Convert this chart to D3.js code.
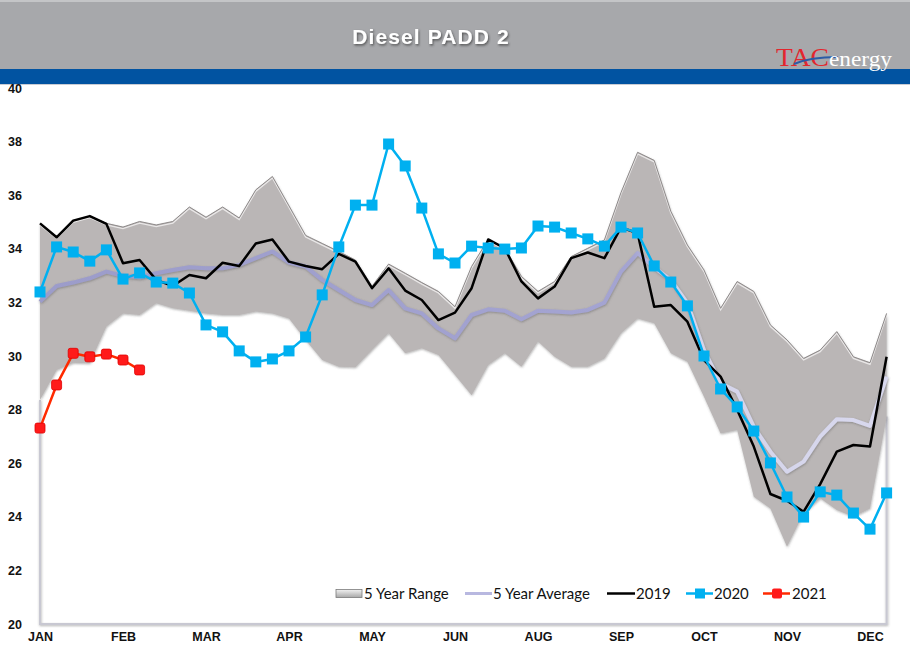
<!DOCTYPE html>
<html>
<head>
<meta charset="utf-8">
<script src="https://cdn.jsdelivr.net/npm/d3@7/dist/d3.min.js"></script>
<style>
  body { margin: 0; background: #fff; }
  svg { display: block; }
</style>
</head>
<body>
<svg id="chart" width="910" height="661"></svg>
<script>
// weekly values, 52 weeks
const monthLabels = ["JAN", "FEB", "MAR", "APR", "MAY", "JUN", "AUG", "SEP", "OCT", "NOV", "DEC"];
const monthWeeks = [0, 5, 10, 15, 20, 25, 30, 35, 40, 45, 50];
const yTicks = [20, 22, 24, 26, 28, 30, 32, 34, 36, 38, 40];

const rangeHigh = [34.95, 34.45, 35.05, 35.22, 34.95, 34.81, 35.02, 34.89, 35.02, 35.56, 35.18, 35.56, 35.15,
  36.2, 36.7, 35.6, 34.5, 34.2, 33.9, 33.58, 32.6, 33.43, 33.09, 32.74, 32.41, 31.84, 33.34, 34.35, 34.02,
  32.97, 32.41, 32.78, 33.71, 34.02, 34.33, 36.1, 37.6, 37.3, 35.4, 34.14, 33.21, 31.78, 32.78, 32.41,
  31.16, 30.6, 29.91, 30.22, 30.91, 29.97, 29.75, 31.59];
const rangeLow = [28.36, 29.48, 29.75, 29.73, 31.1, 31.59, 31.53, 31.97, 31.78, 31.69, 31.59, 31.53, 31.53,
  31.66, 31.59, 31.4, 30.6, 29.85, 29.6, 29.58, 30.22, 30.85, 30.1, 30.29, 30.04, 29.29, 28.54, 29.66, 30.1,
  29.6, 30.54, 29.97, 29.6, 29.6, 29.91, 30.85, 31.4, 31.22, 30.1, 29.79, 28.48, 27.11, 27.24, 24.75,
  24.31, 22.88, 24.13, 24.69, 24.25, 24.0, 24.31, 27.74];
const avg5 = [32.03, 32.61, 32.74, 32.9, 33.15, 32.99, 32.94, 33.09, 33.21, 33.31, 33.27, 33.27, 33.4,
  33.65, 33.9, 33.49, 33.34, 32.84, 32.46, 32.09, 31.9, 32.46, 31.78, 31.59, 31.03, 30.66, 31.53, 31.74,
  31.69, 31.37, 31.69, 31.66, 31.62, 31.72, 31.99, 33.15, 33.84, 33.31, 32.84, 31.97, 30.22, 28.98, 28.67,
  27.36, 26.43, 25.68, 26.06, 26.99, 27.64, 27.61, 27.39, 29.23];
const y2019 = [34.95, 34.43, 35.05, 35.22, 34.93, 33.46, 33.58, 32.84, 32.61, 33.02, 32.9, 33.48, 33.36,
  34.2, 34.35, 33.52, 33.36, 33.24, 33.81, 33.52, 32.53, 33.27, 32.44, 32.09, 31.34, 31.62, 32.53, 34.35,
  34.02, 32.78, 32.15, 32.59, 33.65, 33.86, 33.65, 34.8, 34.58, 31.84, 31.9, 31.28, 29.85, 29.23, 27.99,
  26.62, 24.85, 24.6, 24.19, 25.22, 26.43, 26.68, 26.62, 29.97];
const y2020 = [32.39, 34.07, 33.88, 33.54, 33.96, 32.87, 33.1, 32.76, 32.72, 32.35, 31.16, 30.9, 30.19,
  29.78, 29.89, 30.19, 30.71, 32.28, 34.07, 35.63, 35.63, 37.91, 37.09, 35.52, 33.81, 33.47, 34.1, 34.03,
  33.99, 34.03, 34.85, 34.81, 34.59, 34.37, 34.1, 34.81, 34.59, 33.36, 32.76, 31.87, 30.0, 28.77, 28.1,
  27.2, 26.01, 24.74, 23.99, 24.93, 24.81, 24.14, 23.54, 24.89];
const y2021 = [27.31, 28.92, 30.1, 29.97, 30.07, 29.85, 29.48];

const svg = d3.select("#chart");
const defs = svg.append("defs");

const x = d3.scaleLinear().domain([0, 51]).range([40, 886.6]);
const y = d3.scaleLinear().domain([20, 40]).range([624, 88]);

// header
svg.append("rect").attr("width", 910).attr("height", 70).attr("fill", "#a7a8ab");
svg.append("rect").attr("y", 0).attr("width", 910).attr("height", 2).attr("fill", "#c4c5c7");
svg.append("rect").attr("y", 69).attr("width", 910).attr("height", 15).attr("fill", "#0153a1");
svg.append("rect").attr("y", 84).attr("width", 910).attr("height", 1).attr("fill", "#c9ccd4");

const shadow = defs.append("filter").attr("id", "txtshadow")
  .attr("x", "-10%").attr("y", "-30%").attr("width", "120%").attr("height", "160%");
shadow.append("feDropShadow").attr("dx", 1).attr("dy", 1.5).attr("stdDeviation", 0.8)
  .attr("flood-color", "#333").attr("flood-opacity", 0.7);

svg.append("text")
  .attr("x", 431).attr("y", 43.5)
  .attr("text-anchor", "middle")
  .attr("font-family", "Liberation Sans, Arial, sans-serif")
  .attr("font-weight", "bold")
  .attr("font-size", 21)
  .attr("letter-spacing", 1.1)
  .attr("fill", "#fff")
  .attr("filter", "url(#txtshadow)")
  .text("Diesel PADD 2");

// logo
const logo = svg.append("g");
logo.append("text")
  .attr("x", 776).attr("y", 66)
  .attr("font-family", "Liberation Serif, Times New Roman, serif")
  .attr("font-size", 25)
  .attr("textLength", 53).attr("lengthAdjust", "spacingAndGlyphs")
  .attr("fill", "#e3262e")
  .text("TAC");
logo.append("path")
  .attr("d", "M794,64 Q810,57 838,57")
  .attr("fill", "none").attr("stroke", "#2b5ca6").attr("stroke-width", 2);
logo.append("text")
  .attr("x", 829).attr("y", 66)
  .attr("font-family", "Liberation Serif, Times New Roman, serif")
  .attr("font-size", 22)
  .attr("textLength", 63).attr("lengthAdjust", "spacingAndGlyphs")
  .attr("fill", "#fff")
  .text("energy");

// band shadow
const bandShadow = defs.append("filter").attr("id", "bandshadow")
  .attr("x", "-5%").attr("y", "-5%").attr("width", "110%").attr("height", "110%");
bandShadow.append("feDropShadow").attr("dx", 0.5).attr("dy", 1).attr("stdDeviation", 1)
  .attr("flood-color", "#555").attr("flood-opacity", 0.45);

// frame that the stacked range leaves at the edges
svg.append("path")
  .attr("d", `M${x(0)},${y(rangeLow[0])} L${x(0)},${y(20)} L${x(51)},${y(20)} L${x(51)},${y(rangeLow[51])}`)
  .attr("fill", "none")
  .attr("stroke", "#c8c8d2")
  .attr("stroke-width", 2)
  .attr("filter", "url(#bandshadow)");

const area = d3.area()
  .x((d, i) => x(i))
  .y0((d, i) => y(rangeLow[i]))
  .y1(d => y(d));

svg.append("path")
  .datum(rangeHigh)
  .attr("d", area)
  .attr("fill", "#bab6b6")
  .attr("filter", "url(#bandshadow)");

const line = d3.line().x((d, i) => x(i)).y(d => y(d));

// bevel on the upper edge
svg.append("path").datum(rangeHigh).attr("d", line)
  .attr("transform", "translate(0,1.6)")
  .attr("fill", "none").attr("stroke", "#e9e7e7").attr("stroke-width", 1.3);
svg.append("path").datum(rangeHigh).attr("d", line)
  .attr("fill", "none").attr("stroke", "#8e8a8a").attr("stroke-width", 1);

// 5 year average
const avgGrad = defs.append("linearGradient").attr("id", "avggrad")
  .attr("gradientUnits", "userSpaceOnUse")
  .attr("x1", 40).attr("x2", 887).attr("y1", 0).attr("y2", 0);
avgGrad.append("stop").attr("offset", 0).attr("stop-color", "#9c9cca");
avgGrad.append("stop").attr("offset", 0.7).attr("stop-color", "#a4a4d2");
avgGrad.append("stop").attr("offset", 0.75).attr("stop-color", "#d4d4ea");
avgGrad.append("stop").attr("offset", 1).attr("stop-color", "#d8d8ee");

svg.append("path").datum(avg5).attr("d", line)
  .attr("fill", "none")
  .attr("stroke", "url(#avggrad)")
  .attr("stroke-width", 4)
  .attr("stroke-linejoin", "round")
  .attr("filter", "url(#bandshadow)");

// 2019
svg.append("path").datum(y2019).attr("d", line)
  .attr("fill", "none").attr("stroke", "#000").attr("stroke-width", 2.5)
  .attr("stroke-linejoin", "round");

// 2020
svg.append("path").datum(y2020).attr("d", line)
  .attr("fill", "none").attr("stroke", "#00b0f0").attr("stroke-width", 2.5)
  .attr("stroke-linejoin", "round");
svg.append("g").selectAll("rect")
  .data(y2020)
  .join("rect")
  .attr("x", (d, i) => x(i) - 5.5)
  .attr("y", d => y(d) - 5.5)
  .attr("width", 11).attr("height", 11)
  .attr("fill", "#00b0f0");

// 2021
svg.append("path").datum(y2021).attr("d", line)
  .attr("fill", "none").attr("stroke", "#ff2a00").attr("stroke-width", 2.5)
  .attr("stroke-linejoin", "round");
svg.append("g").selectAll("rect")
  .data(y2021)
  .join("rect")
  .attr("x", (d, i) => x(i) - 5)
  .attr("y", d => y(d) - 5)
  .attr("width", 10).attr("height", 10)
  .attr("rx", 2)
  .attr("fill", "#ff1a1a")
  .attr("stroke", "#e00000")
  .attr("stroke-width", 0.8);

// axes
const yAxis = d3.axisLeft(y).tickValues(yTicks).tickSize(0).tickPadding(0);
const yg = svg.append("g").attr("transform", "translate(8,0)").call(yAxis);
yg.select(".domain").remove();
yg.selectAll("text")
  .attr("text-anchor", "start")
  .attr("x", 0)
  .attr("font-family", "Liberation Sans, Arial, sans-serif")
  .attr("font-weight", "bold")
  .attr("font-size", 12.5)
  .attr("fill", "#111");

const xAxis = d3.axisBottom(x).tickValues(monthWeeks)
  .tickFormat((d, i) => monthLabels[i]).tickSize(0).tickPadding(0);
const xg = svg.append("g").attr("transform", "translate(0,632)").call(xAxis);
xg.select(".domain").remove();
xg.selectAll("text")
  .attr("dy", "0.71em")
  .attr("y", 0)
  .attr("font-family", "Liberation Sans, Arial, sans-serif")
  .attr("font-weight", "bold")
  .attr("font-size", 12.5)
  .attr("fill", "#111");

// legend
const legend = svg.append("g")
  .attr("font-family", "Lato, Noto Sans, sans-serif")
  .attr("font-size", 15)
  .attr("fill", "#111");

const swatchGrad = defs.append("linearGradient").attr("id", "swgrad")
  .attr("x1", 0).attr("x2", 0).attr("y1", 0).attr("y2", 1);
swatchGrad.append("stop").attr("offset", 0).attr("stop-color", "#f2f2f2");
swatchGrad.append("stop").attr("offset", 1).attr("stop-color", "#a8a8a8");

legend.append("rect").attr("x", 336).attr("y", 589.5).attr("width", 26).attr("height", 8)
  .attr("fill", "url(#swgrad)").attr("stroke", "#7a7a7a").attr("stroke-width", 0.8);
legend.append("text").attr("x", 364).attr("y", 599).text("5 Year Range");

legend.append("line").attr("x1", 465).attr("x2", 492).attr("y1", 593.5).attr("y2", 593.5)
  .attr("stroke", "#b8b8e0").attr("stroke-width", 3);
legend.append("text").attr("x", 493).attr("y", 599).text("5 Year Average");

legend.append("line").attr("x1", 607).attr("x2", 635).attr("y1", 593.5).attr("y2", 593.5)
  .attr("stroke", "#000").attr("stroke-width", 2.5);
legend.append("text").attr("x", 636).attr("y", 599).text("2019");

legend.append("line").attr("x1", 686).attr("x2", 713).attr("y1", 593.5).attr("y2", 593.5)
  .attr("stroke", "#00b0f0").attr("stroke-width", 2.5);
legend.append("rect").attr("x", 695).attr("y", 588.5).attr("width", 10).attr("height", 10)
  .attr("fill", "#00b0f0");
legend.append("text").attr("x", 714).attr("y", 599).text("2020");

legend.append("line").attr("x1", 763).attr("x2", 790).attr("y1", 593.5).attr("y2", 593.5)
  .attr("stroke", "#ff2a00").attr("stroke-width", 2.5);
legend.append("rect").attr("x", 772).attr("y", 588.5).attr("width", 10).attr("height", 10)
  .attr("rx", 2).attr("fill", "#ff1a1a");
legend.append("text").attr("x", 792).attr("y", 599).text("2021");
</script>
</body>
</html>
